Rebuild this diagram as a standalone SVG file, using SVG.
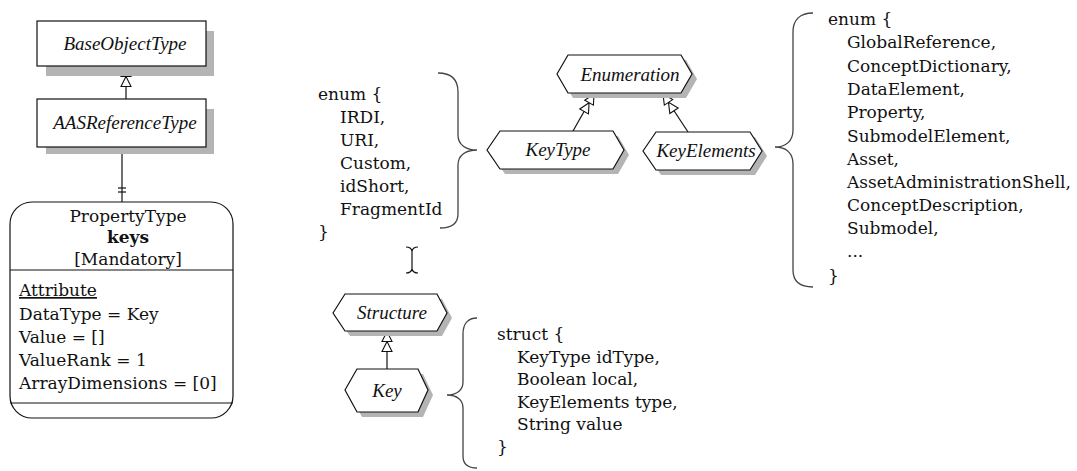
<svg xmlns="http://www.w3.org/2000/svg" width="1077" height="471" viewBox="0 0 1077 471">
<style>
.bg{fill:#fff}
.box{fill:#fff;stroke:#111;stroke-width:1.2}
.shadow{fill:#b4b4b4;stroke:none}
.lbl{font-family:"Liberation Serif",serif;font-style:italic;font-size:19px;fill:#111;text-anchor:middle}
.txt{font-family:"DejaVu Serif","Liberation Serif",serif;font-size:17px;fill:#111}
.brace{fill:none;stroke:#444;stroke-width:1.3}
.conn{fill:none;stroke:#111;stroke-width:1.2}
</style>
<defs>
<marker id="sub" markerUnits="userSpaceOnUse" markerWidth="26" markerHeight="14" viewBox="-23 -7 26 14" refX="0" refY="0" orient="auto">
<path d="M-10,0 L-20,-5 L-20,5 Z" fill="#fff" stroke="#111" stroke-width="1.1"/>
<path d="M0,0 L-10,-5 L-10,5 Z" fill="#fff" stroke="#111" stroke-width="1.1"/>
</marker>
</defs>
<rect class="bg" x="0" y="0" width="1077" height="471"/>

<g id="connectors">
<line class="conn" x1="126" y1="99" x2="126" y2="66.5" marker-end="url(#sub)"/>
<line class="conn" x1="122" y1="147" x2="122" y2="202"/>
<line class="conn" x1="118" y1="188" x2="126" y2="188"/>
<line class="conn" x1="118" y1="192" x2="126" y2="192"/>
<line class="conn" x1="573" y1="131" x2="594" y2="94" marker-end="url(#sub)"/>
<line class="conn" x1="688" y1="132" x2="663" y2="94" marker-end="url(#sub)"/>
<line class="conn" x1="387" y1="369" x2="387" y2="331.5" marker-end="url(#sub)"/>
</g>

<g id="BaseObjectType">
<rect class="shadow" x="46" y="31" width="168" height="45"/>
<rect class="box" x="37" y="21" width="169" height="45"/>
<text class="lbl" x="125" y="50">BaseObjectType</text>
</g>

<g id="AASReferenceType">
<rect class="shadow" x="46" y="109" width="168" height="45"/>
<rect class="box" x="37" y="99" width="169" height="48"/>
<text class="lbl" x="125" y="129">AASReferenceType</text>
</g>

<g id="PropertyType">
<rect class="box" x="10" y="202" width="223" height="216" rx="22" ry="22"/>
<line class="conn" x1="10" y1="270" x2="233" y2="270"/>
<line class="conn" x1="10" y1="403" x2="233" y2="403"/>
<text class="txt" x="128" y="222" text-anchor="middle">PropertyType</text>
<text class="txt" x="128" y="243" text-anchor="middle" font-weight="bold">keys</text>
<text class="txt" x="128" y="265" text-anchor="middle">[Mandatory]</text>
<text class="txt" x="19" y="296" text-decoration="underline">Attribute</text>
<text class="txt" x="19" y="320">DataType = Key</text>
<text class="txt" x="19" y="343">Value = []</text>
<text class="txt" x="19" y="366">ValueRank = 1</text>
<text class="txt" x="19" y="389">ArrayDimensions = [0]</text>
</g>

<g id="KeyTypeEnum">
<text class="txt" x="318" y="100">enum {</text>
<text class="txt" x="340" y="123">IRDI,</text>
<text class="txt" x="340" y="146">URI,</text>
<text class="txt" x="340" y="169">Custom,</text>
<text class="txt" x="340" y="192">idShort,</text>
<text class="txt" x="340" y="215">FragmentId</text>
<text class="txt" x="318" y="238">}</text>
<path class="brace" d="M438,73 C452,73 458,80 458,92 L458,135 C458,145 466,150 477,150 C466,150 458,155 458,165 L458,214 C458,224 452,228 440,228"/>
</g>

<g id="cursor">
<path class="conn" d="M406,247 Q411,247 412,251 Q413,247 418,247 M412,251 L412,269 M406,273 Q411,273 412,269 Q413,273 418,273"/>
</g>

<g id="Enumeration">
<path class="shadow" d="M562,79 L573,60 L686,60 L697,79 L686,98 L573,98 Z"/>
<path class="box" d="M557,74 L568,55 L681,55 L692,74 L681,93 L568,93 Z"/>
<text class="lbl" x="630" y="81">Enumeration</text>
</g>

<g id="KeyType">
<path class="shadow" d="M492,155 L505,136 L618,136 L629,155 L618,174 L505,174 Z"/>
<path class="box" d="M487,150 L500,131 L613,131 L624,150 L613,169 L500,169 Z"/>
<text class="lbl" x="558" y="156">KeyType</text>
</g>

<g id="KeyElements">
<path class="shadow" d="M648,156 L661,137 L755,137 L767,156 L755,175 L661,175 Z"/>
<path class="box" d="M643,151 L656,132 L750,132 L762,151 L750,170 L656,170 Z"/>
<text class="lbl" x="706" y="157">KeyElements</text>
</g>

<g id="KeyElementsEnum">
<path class="brace" d="M813,13 C800,13 793,20 793,32 L793,130 C793,141 786,147 775,147 C786,147 793,153 793,164 L793,270 C793,281 800,287 813,287"/>
<text class="txt" x="828" y="25">enum {</text>
<text class="txt" x="847" y="48">GlobalReference,</text>
<text class="txt" x="847" y="72">ConceptDictionary,</text>
<text class="txt" x="847" y="95">DataElement,</text>
<text class="txt" x="847" y="118">Property,</text>
<text class="txt" x="847" y="142">SubmodelElement,</text>
<text class="txt" x="847" y="165">Asset,</text>
<text class="txt" x="847" y="188">AssetAdministrationShell,</text>
<text class="txt" x="847" y="211">ConceptDescription,</text>
<text class="txt" x="847" y="234">Submodel,</text>
<text class="txt" x="847" y="257">...</text>
<text class="txt" x="828" y="282">}</text>
</g>

<g id="Structure">
<path class="shadow" d="M338,318 L350,299 L442,299 L452,318 L442,336 L350,336 Z"/>
<path class="box" d="M333,313 L345,294 L437,294 L447,313 L437,331 L345,331 Z"/>
<text class="lbl" x="392" y="319">Structure</text>
</g>

<g id="Key">
<path class="shadow" d="M350,395 L362,374 L423,374 L433,395 L423,417 L362,417 Z"/>
<path class="box" d="M345,390 L357,369 L418,369 L428,390 L418,412 L357,412 Z"/>
<text class="lbl" x="387" y="397">Key</text>
</g>

<g id="KeyStruct">
<path class="brace" d="M477,318 C468,318 463,324 463,334 L463,382 C463,390 457,395 447,395 C457,395 463,400 463,408 L463,456 C463,464 468,468 477,468"/>
<text class="txt" x="497" y="340">struct {</text>
<text class="txt" x="517" y="363">KeyType idType,</text>
<text class="txt" x="517" y="385">Boolean local,</text>
<text class="txt" x="517" y="408">KeyElements type,</text>
<text class="txt" x="517" y="430">String value</text>
<text class="txt" x="497" y="453">}</text>
</g>
</svg>
